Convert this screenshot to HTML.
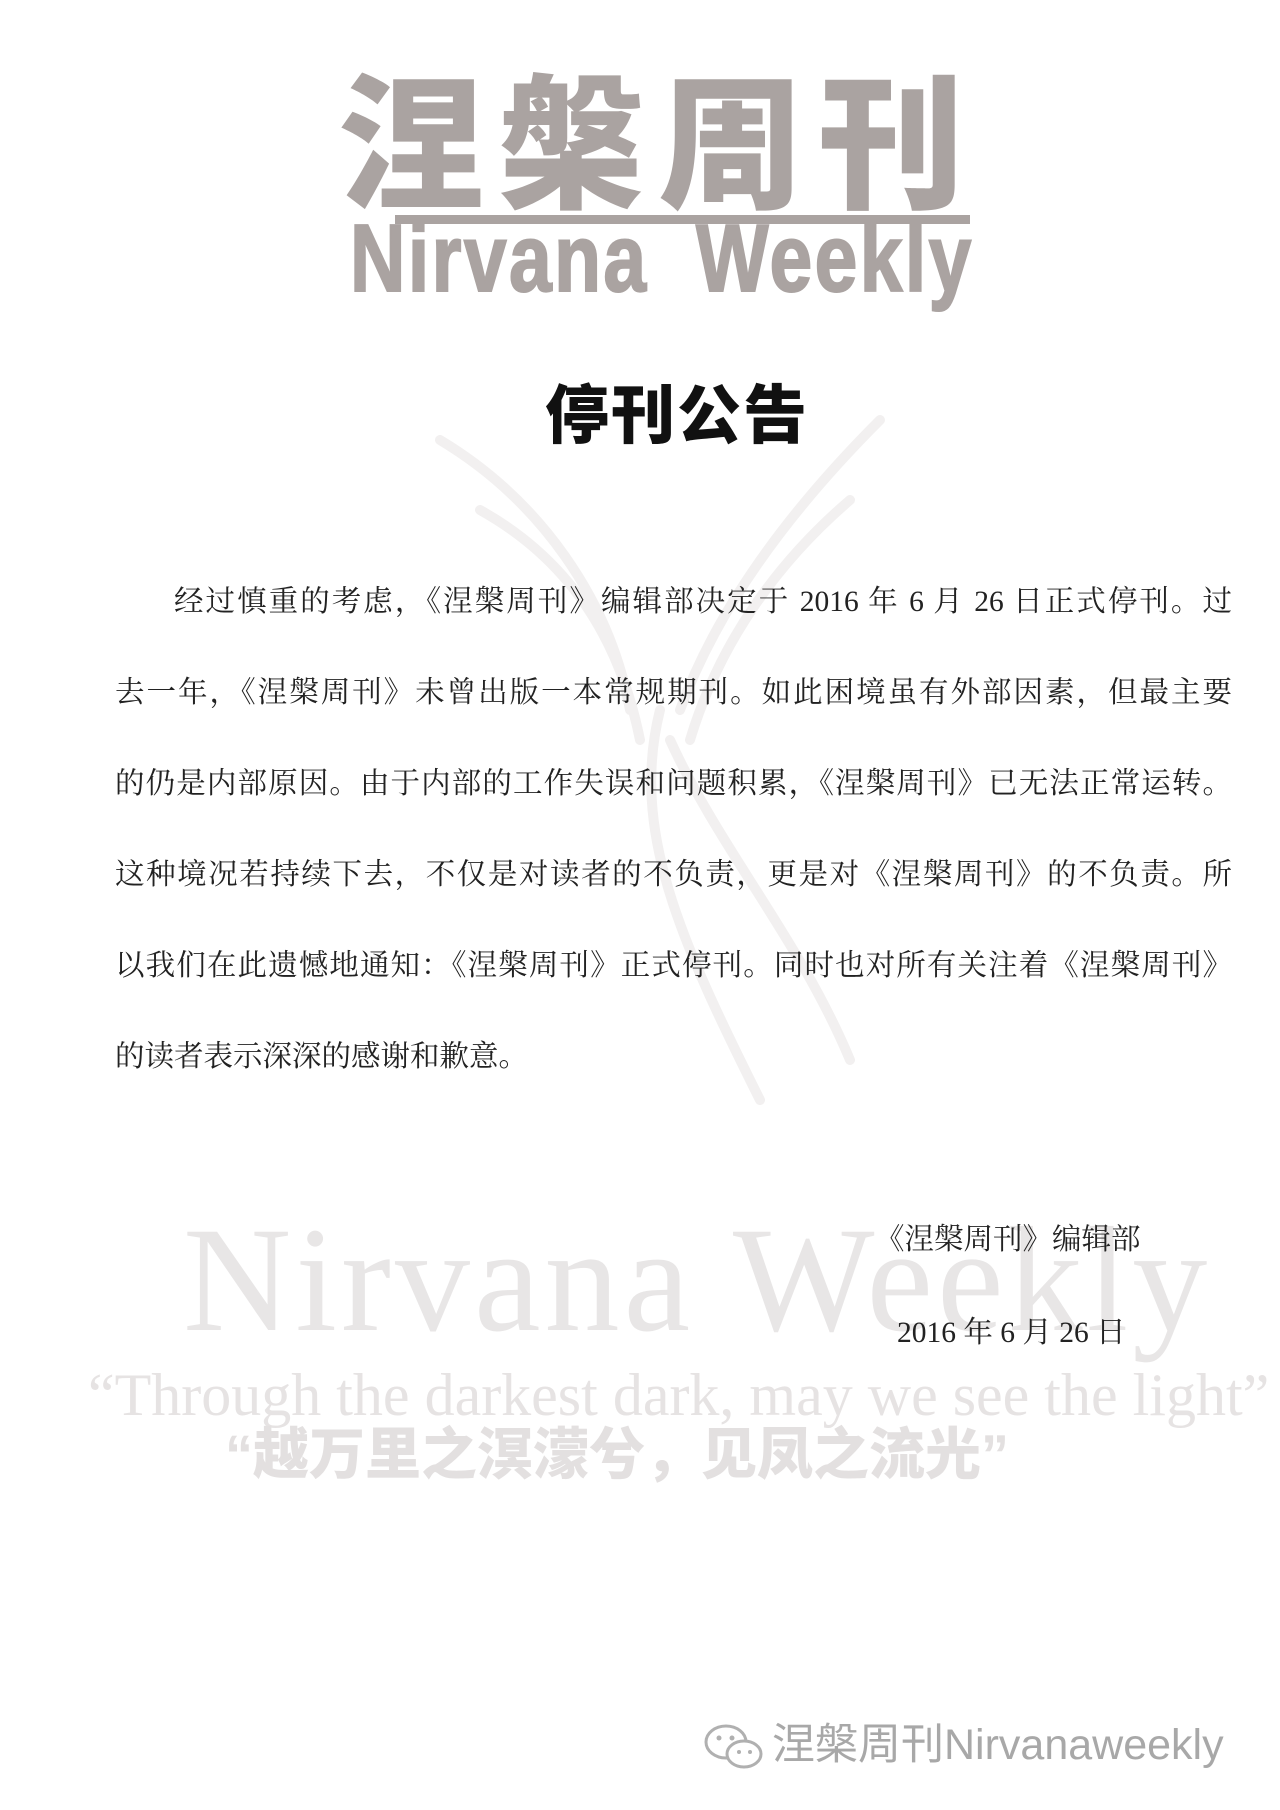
<!DOCTYPE html>
<html><head><meta charset="utf-8">
<style>
html,body{margin:0;padding:0;background:#fff;}
body{width:1280px;height:1810px;position:relative;overflow:hidden;font-family:"Liberation Serif","Noto Serif CJK SC",serif;}
.abs{position:absolute;white-space:nowrap;}
#logo-cn{left:338px;top:72px;font-family:"Liberation Sans","Noto Sans CJK SC",sans-serif;font-weight:900;font-size:146px;line-height:150px;color:#aaa3a1;letter-spacing:14px;}
#logo-line{left:395px;top:215px;width:575px;height:9px;background:#aaa3a1;}
#logo-en{left:350px;top:214px;font-family:"Liberation Sans",sans-serif;font-weight:bold;font-size:96px;line-height:90px;color:#aaa3a1;transform:scaleX(0.8);transform-origin:left top;letter-spacing:3px;-webkit-text-stroke:2px #aaa3a1;}
#title{left:545px;top:380px;font-family:"Liberation Sans","Noto Sans CJK SC",sans-serif;font-weight:900;font-size:64px;line-height:72px;color:#111;letter-spacing:2px;}
#body{left:115px;top:557px;width:1117px;font-size:29.5px;line-height:91px;color:#222;}
#body div{text-align:justify;text-align-last:justify;height:91px;white-space:nowrap;}
#body div.last{text-align-last:left;}
#wm-en{left:183px;top:1195px;font-size:150px;line-height:170px;color:#e8e6e6;letter-spacing:4px;}
#wm-q{left:88px;top:1360px;font-size:60px;line-height:70px;color:#e6e3e3;}
#wm-cn{left:225px;top:1420px;font-family:"Liberation Sans","Noto Sans CJK SC",sans-serif;font-weight:900;font-size:56px;line-height:70px;color:#e3e0e0;}
#sig{left:875px;top:1220px;font-size:29.5px;line-height:40px;color:#222;}
#date{left:897px;top:1313px;font-size:29.5px;line-height:40px;color:#222;}
#foot{left:772px;top:1720px;font-family:"Liberation Sans","Noto Sans CJK SC",sans-serif;font-size:43px;line-height:50px;color:#a8a8a8;}
</style></head>
<body>
<svg class="abs" style="left:380px;top:380px" width="560" height="760">
<g fill="none" stroke="#f2f0f0" stroke-width="10" stroke-linecap="round">
<path d="M60 60 C160 120 230 220 250 330"/>
<path d="M500 40 C420 120 340 220 300 330"/>
<path d="M100 130 C190 180 240 260 260 360"/>
<path d="M470 120 C400 180 340 260 310 360"/>
<path d="M280 330 C250 450 300 560 380 720"/>
<path d="M290 360 C340 470 420 560 470 680"/>
</g></svg>
<div class="abs" id="logo-cn">涅槃周刊</div>
<div class="abs" id="logo-line"></div>
<div class="abs" id="logo-en">Nirvana&nbsp;&nbsp;Weekly</div>
<div class="abs" id="title">停刊公告</div>
<div class="abs" id="wm-en">Nirvana Weekly</div>
<div class="abs" id="wm-q">“Through the darkest dark, may we see the light”</div>
<div class="abs" id="wm-cn">“越万里之溟濛兮，见凤之流光”</div>
<div class="abs" id="body">
<div style="padding-left:59px">经过慎重的考虑，《涅槃周刊》编辑部决定于 2016 年 6 月 26 日正式停刊。过</div>
<div>去一年，《涅槃周刊》未曾出版一本常规期刊。如此困境虽有外部因素，但最主要</div>
<div>的仍是内部原因。由于内部的工作失误和问题积累，《涅槃周刊》已无法正常运转。</div>
<div>这种境况若持续下去，不仅是对读者的不负责，更是对《涅槃周刊》的不负责。所</div>
<div>以我们在此遗憾地通知：《涅槃周刊》正式停刊。同时也对所有关注着《涅槃周刊》</div>
<div class="last">的读者表示深深的感谢和歉意。</div>
</div>
<div class="abs" id="sig">《涅槃周刊》编辑部</div>
<div class="abs" id="date">2016 年 6 月 26 日</div>
<svg class="abs" style="left:702px;top:1722px" width="66" height="50">
<ellipse cx="24" cy="20" rx="20" ry="16" fill="none" stroke="#b0b0b0" stroke-width="3"/>
<ellipse cx="42" cy="32" rx="17" ry="13" fill="#fff" stroke="#b0b0b0" stroke-width="3"/>
<circle cx="17" cy="16" r="2.5" fill="#b0b0b0"/><circle cx="30" cy="16" r="2.5" fill="#b0b0b0"/>
<circle cx="37" cy="30" r="2" fill="#b0b0b0"/><circle cx="48" cy="30" r="2" fill="#b0b0b0"/>
</svg>
<div class="abs" id="foot">涅槃周刊Nirvanaweekly</div>
</body></html>
